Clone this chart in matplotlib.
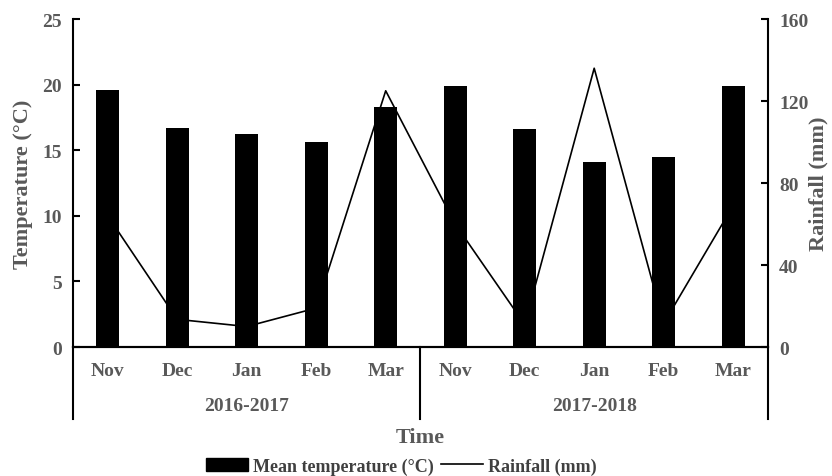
import matplotlib.pyplot as plt
import matplotlib.transforms as mtransforms
from matplotlib.patches import Patch
from matplotlib.lines import Line2D

months = ["Nov", "Dec", "Jan", "Feb", "Mar", "Nov", "Dec", "Jan", "Feb", "Mar"]
seasons = ["2016-2017", "2017-2018"]
temp = [19.6, 16.7, 16.2, 15.6, 18.3, 19.9, 16.6, 14.1, 14.5, 19.9]
rain = [64, 13.5, 10, 19, 125, 60, 11, 136, 11.5, 69]

plt.rcParams['font.family'] = ['Liberation Serif', 'DejaVu Serif']
plt.rcParams['font.weight'] = 'bold'
plt.rcParams['axes.labelweight'] = 'bold'
gray = '#595959'

fig = plt.figure(figsize=(8.32, 4.77), dpi=100)
ax = fig.add_axes([0.0877, 0.2704, 0.8353, 0.6876])
x = list(range(len(months)))
ax.bar(x, temp, width=0.33, color='black', zorder=2)
ax.set_xlim(-0.5, len(months) - 0.5)
ax.set_ylim(0, 25)
ax.set_yticks([0, 5, 10, 15, 20, 25])

ax2 = ax.twinx()
ax2.plot(x, rain, color='black', lw=1.2, zorder=1)
ax2.set_ylim(0, 160)
ax2.set_yticks([0, 40, 80, 120, 160])
ax.set_zorder(ax2.get_zorder() + 1)
ax.patch.set_visible(False)

for a in (ax, ax2):
    a.spines['top'].set_visible(False)
    for s in a.spines.values():
        s.set_linewidth(1.5)
    a.tick_params(axis='y', direction='in', length=5, width=1.5,
                  labelsize=14, labelcolor=gray, pad=8)
ax2.spines['left'].set_visible(False)
ax.spines['right'].set_visible(False)

ax.set_xticks(x)
ax.set_xticklabels(months)
ax.tick_params(axis='x', length=0, labelsize=14, labelcolor=gray, pad=11)

ax.set_ylabel("Temperature (\u00b0C)", fontsize=16, color=gray, fontweight='bold')
ax.yaxis.set_label_coords(-0.057, 0.5)
ax2.set_ylabel("Rainfall (mm)", fontsize=16, color=gray, fontweight='bold')
ax2.yaxis.set_label_coords(1.059, 0.5)

trans = mtransforms.blended_transform_factory(ax.transData, ax.transAxes)
for xv in [-0.5, 4.5, 9.5]:
    ax.plot([xv, xv], [0, -0.2195], color='black', lw=1.5,
            transform=trans, clip_on=False)
ax.text(2, -0.178, seasons[0], transform=trans, ha='center', va='center',
        fontsize=14, color=gray)
ax.text(7, -0.178, seasons[1], transform=trans, ha='center', va='center',
        fontsize=14, color=gray)

fig.text(0.505, 0.081, "Time", ha='center', va='center', fontsize=16, color=gray)

handles = [Patch(facecolor='black', edgecolor='black'),
           Line2D([0], [0], color='black', lw=1.2)]
leg = fig.legend(handles, ["Mean temperature (\u00b0C)", "Rainfall (mm)"],
                 loc='center', bbox_to_anchor=(0.4826, 0.021), ncol=2,
                 frameon=False, fontsize=13, handlelength=2.3,
                 handletextpad=0.3, columnspacing=0.4)
for t in leg.get_texts():
    t.set_color('#404040')

fig.savefig("out.png", dpi=100)
